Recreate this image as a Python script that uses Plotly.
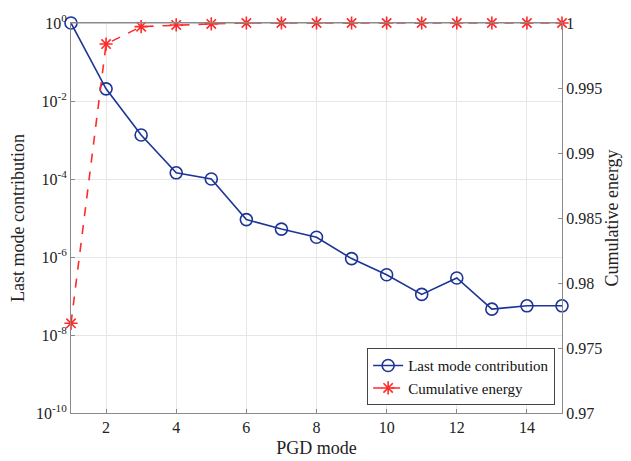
import plotly.graph_objects as go

modes = list(range(1, 16))
last_mode = [1.0, 2.05e-2, 1.34e-3, 1.44e-4, 1.0e-4, 9.1e-6, 5.2e-6, 3.2e-6,
             9.1e-7, 3.5e-7, 1.1e-7, 2.9e-7, 4.6e-8, 5.6e-8, 5.6e-8]
cum_energy = [0.9769, 0.99838, 0.99972, 0.99985, 0.99993, 1.0, 1.0, 1.0,
              1.0, 1.0, 1.0, 1.0, 1.0, 1.0, 1.0]

left_tickvals = [1e-10, 1e-8, 1e-6, 1e-4, 1e-2, 1]
left_ticktext = ["10<sup>-10</sup>", "10<sup>-8</sup>", "10<sup>-6</sup>",
                 "10<sup>-4</sup>", "10<sup>-2</sup>", "10<sup>0</sup>"]
right_tickvals = [0.97, 0.975, 0.98, 0.985, 0.99, 0.995, 1.0]
right_ticktext = ["0.97", "0.975", "0.98", "0.985", "0.99", "0.995", "1"]
x_tickvals = [2, 4, 6, 8, 10, 12, 14]

FONT = "Liberation Serif"
BLUE = "#1c3596"
RED = "#ff2a2a"
AXC = "#8a8a8a"

fig = go.Figure()
fig.add_trace(go.Scatter(
    x=modes, y=cum_energy, yaxis="y2", name="Cumulative energy",
    mode="lines+markers",
    line=dict(color=RED, width=1.6, dash="dash"),
    marker=dict(symbol="asterisk-open", size=11, color=RED,
                line=dict(color=RED, width=1.6)),
    cliponaxis=False,
))
fig.add_trace(go.Scatter(
    x=modes, y=last_mode, yaxis="y", name="Last mode contribution",
    mode="lines+markers",
    line=dict(color=BLUE, width=1.6),
    marker=dict(symbol="circle-open", size=12, color=BLUE,
                line=dict(color=BLUE, width=1.6)),
    cliponaxis=False,
))

# page body has an 8px margin; size the figure so it fills the 631x461 window
fig.update_layout(
    width=623, height=453,
    margin=dict(l=63, r=69, t=15, b=48, autoexpand=False),
    paper_bgcolor="white", plot_bgcolor="white",
    font=dict(family=FONT, size=16, color="#222"),
    showlegend=True,
    legend=dict(x=0.986, y=0.02, xanchor="right", yanchor="bottom",
                bgcolor="white", bordercolor="#444", borderwidth=1,
                font=dict(family=FONT, size=15, color="#111"),
                traceorder="reversed", tracegroupgap=0,
                itemwidth=30),
    xaxis=dict(
        range=[1, 15], tickvals=x_tickvals, automargin=False,
        title=dict(text="PGD mode", font=dict(size=18), standoff=6),
        showgrid=True, gridcolor="#e6e6e6", gridwidth=1,
        showline=True, linecolor=AXC, linewidth=1, mirror=True,
        ticks="inside", ticklen=4, tickcolor=AXC, zeroline=False,
    ),
    yaxis=dict(
        type="log", range=[-10, 0], automargin=False,
        tickvals=left_tickvals, ticktext=left_ticktext,
        title=dict(text="Last mode contribution", font=dict(size=18), standoff=8),
        showgrid=True, gridcolor="#e6e6e6", gridwidth=1,
        showline=True, linecolor=AXC, linewidth=1,
        ticks="inside", ticklen=4, tickcolor=AXC, zeroline=False,
    ),
    yaxis2=dict(
        overlaying="y", side="right", range=[0.97, 1.0], automargin=False,
        tickvals=right_tickvals, ticktext=right_ticktext,
        title=dict(text="Cumulative energy", font=dict(size=18), standoff=0),
        showgrid=False,
        showline=True, linecolor=AXC, linewidth=1,
        ticks="inside", ticklen=4, tickcolor=AXC, zeroline=False,
    ),
)
fig.add_shape(type="line", xref="paper", yref="paper", x0=0, x1=1, y0=1, y1=1,
              line=dict(color=AXC, width=1))

fig.write_html("out.html")
